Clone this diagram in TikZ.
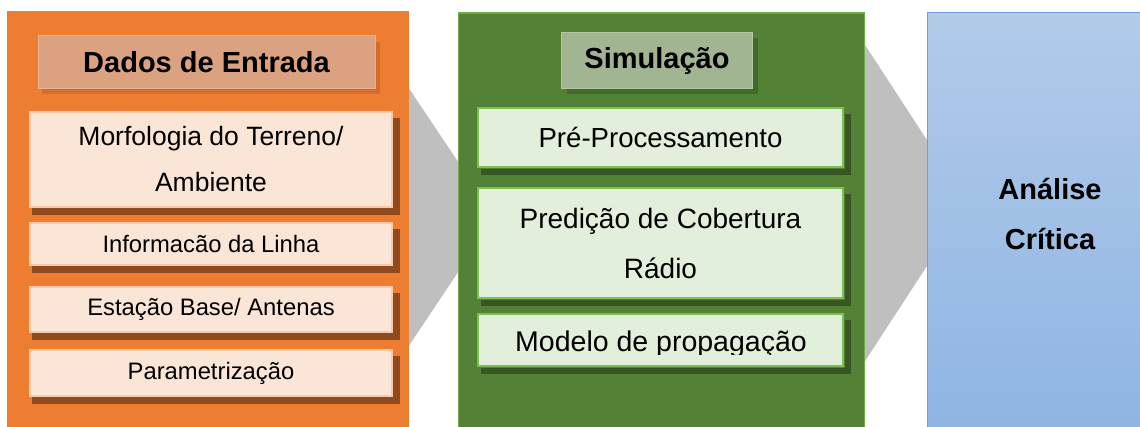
\documentclass[tikz,border=0pt]{standalone}
\usepackage{fontspec}
\setmainfont{Liberation Sans}
\usetikzlibrary{calc}
\definecolor{orangeP}{HTML}{ED7D31}
\definecolor{orangeT}{HTML}{DBA282}
\definecolor{orangeTb}{HTML}{E9B393}
\definecolor{orangeB}{HTML}{FBE5D6}
\definecolor{orangeBb}{HTML}{F8C9A8}
\definecolor{orangeS}{HTML}{8F4B1F}
\definecolor{orangeTS}{HTML}{C9652A}
\definecolor{greenP}{HTML}{538135}
\definecolor{greenPb}{HTML}{70AD47}
\definecolor{greenT}{HTML}{A1B593}
\definecolor{greenTb}{HTML}{B4C8A6}
\definecolor{greenTS}{HTML}{3F6A2A}
\definecolor{greenB}{HTML}{E2EFDA}
\definecolor{greenBb}{HTML}{7DBF52}
\definecolor{greenS}{HTML}{375623}
\definecolor{blueTop}{HTML}{B2CBE9}
\definecolor{blueBot}{HTML}{8EB4E3}
\definecolor{blueB}{HTML}{6F9FD8}
\definecolor{chev}{HTML}{BFBFBF}
\tikzset{
  panel/.style={rectangle, anchor=north west, inner sep=0pt},
  obox/.style={rectangle, fill=orangeB, draw=orangeBb, line width=1.2pt, minimum width=362pt, inner sep=0pt, align=center},
  gbox/.style={rectangle, fill=greenB, draw=greenBb, line width=2pt, minimum width=365pt, inner sep=0pt, align=center},
  otitle/.style={rectangle, fill=orangeT, draw=orangeTb, line width=1pt, minimum width=337pt, minimum height=53pt, inner sep=0pt},
  gtitle/.style={rectangle, fill=greenT, draw=greenTb, line width=1pt, minimum width=191pt, minimum height=56pt, inner sep=0pt},
  ttext/.style={font=\fontsize{29}{34}\selectfont\bfseries},
}
\begin{document}
\begin{tikzpicture}[x=1pt,y=-1pt]
\useasboundingbox (0,0) rectangle (1140,426);
% chevrons
\fill[chev] (398,72) -- (495,217) -- (398,362) -- cycle;
\fill[chev] (854,28) -- (968,203) -- (854,378) -- cycle;
% panels
\node[panel, fill=orangeP, minimum width=402pt, minimum height=430pt] (op) at (7,11) {};
\node[panel, fill=greenP, draw=greenPb, line width=1.5pt, minimum width=406pt, minimum height=430pt] (gp) at (457.5,12) {};
\node[panel, top color=blueTop, bottom color=blueBot, draw=blueB, line width=0.8pt, minimum width=250pt, minimum height=430pt] (bp) at (927,12) {};
% orange title
\fill[orangeTS, opacity=0.7] (42,42) rectangle (380,94);
\node[otitle] (ot) at (206.5,61.5) {};
\node[ttext] (ott) at (206.5,62) {Dados de Entrada};
% orange boxes
\node[obox, minimum height=95pt, font=\fontsize{26.5}{46}\selectfont] (o1) at (211,159.5) {Morfologia do Terreno/\\Ambiente};
\node[obox, minimum height=42pt, font=\fontsize{23.8}{28}\selectfont] (o2) at (211,244) {Informacão da Linha};
\node[obox, minimum height=45pt, font=\fontsize{23.8}{28}\selectfont] (o3) at (211,309.5) {Estação Base/ Antenas};
\node[obox, minimum height=46pt, font=\fontsize{23.8}{28}\selectfont] (o4) at (211,373) {Parametrização};
\foreach \n in {o1,o2,o3,o4}{
  \fill[orangeS] ($(\n.north east)+(0.6pt,-7pt)$) rectangle ($(\n.south east)+(7pt,-7pt)$);
  \fill[orangeS] ($(\n.south west)+(3pt,-0.6pt)$) rectangle ($(\n.south east)+(7pt,-7pt)$);
}
% green title
\fill[greenTS] (567,38) rectangle (758,94);
\node[gtitle] (gt) at (656.5,60) {};
\node[ttext] (gtt) at (657,61) {Simulação};
% green boxes
\node[gbox, minimum height=59pt, font=\fontsize{27.6}{32}\selectfont] (g1) at (660.5,137.5) {Pré-Processamento};
\node[gbox, minimum height=110pt, font=\fontsize{28}{50}\selectfont] (g2) at (660.5,243) {Predição de Cobertura\\Rádio};
\node[gbox, minimum height=52pt] (g3) at (660.5,340) {};
\begin{scope}
\clip (478,300) rectangle (843,354.5);
\node[font=\fontsize{28.5}{32}\selectfont, inner sep=0pt] (g3t) at (661,344) {Modelo de propagação};
\end{scope}
\foreach \n in {g1,g2,g3}{
  \fill[greenS] ($(\n.north east)+(1pt,-7pt)$) rectangle ($(\n.south east)+(7pt,-7pt)$);
  \fill[greenS] ($(\n.south west)+(4pt,-1pt)$) rectangle ($(\n.south east)+(7pt,-7pt)$);
}
% blue text
\node[font=\fontsize{29}{50}\selectfont\bfseries, align=center] (bt) at (1050,214) {Análise\\Crítica};
\end{tikzpicture}
\end{document}
